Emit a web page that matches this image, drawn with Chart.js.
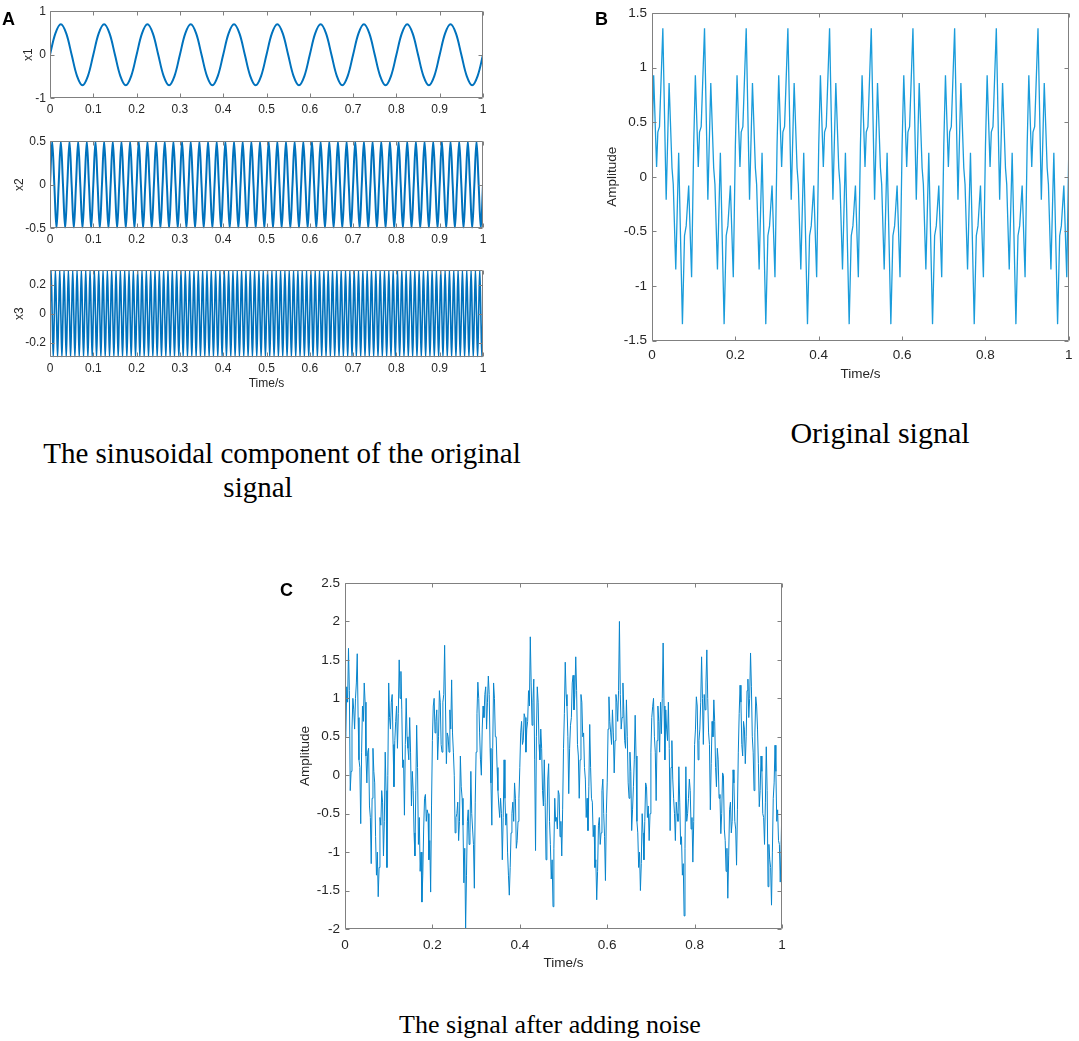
<!DOCTYPE html>
<html><head><meta charset="utf-8">
<script src="https://cdn.jsdelivr.net/npm/chart.js@4.4.0/dist/chart.umd.min.js"></script>
<style>
html,body{margin:0;padding:0;background:#fff;width:1079px;height:1041px;overflow:hidden;position:relative;}
canvas{position:absolute;}
.lbl{position:absolute;font-family:'Liberation Sans',Arial,sans-serif;font-weight:bold;font-size:18px;color:#000;line-height:18px;}
.cap{position:absolute;font-family:'Liberation Serif','Times New Roman',serif;color:#000;white-space:nowrap;text-align:center;line-height:34px;width:600px;}
</style></head><body>
<canvas id="cA1" width="500" height="130" style="left:0;top:0"></canvas>
<canvas id="cA2" width="500" height="130" style="left:0;top:130px"></canvas>
<canvas id="cA3" width="500" height="140" style="left:0;top:259px"></canvas>
<canvas id="cB" width="487" height="392" style="left:592px;top:0"></canvas>
<canvas id="cC" width="510" height="420" style="left:285px;top:560px"></canvas>
<div class="lbl" style="left:2px;top:10px">A</div>
<div class="lbl" style="left:595px;top:10px">B</div>
<div class="lbl" style="left:280px;top:581px">C</div>
<div class="cap" style="left:-18px;top:436px;font-size:29px">The sinusoidal component of the original</div>
<div class="cap" style="left:-42px;top:470px;font-size:29px">signal</div>
<div class="cap" style="left:580px;top:416px;font-size:30px">Original signal</div>
<div class="cap" style="left:250px;top:1008px;font-size:26px">The signal after adding noise</div>
<script>
// ---------- data ----------
const timeTicks10 = [0,0.1,0.2,0.3,0.4,0.5,0.6,0.7,0.8,0.9,1];
const timeTicks5 = [0,0.2,0.4,0.6,0.8,1];
const ticksX1 = [-1,0,1];
const ticksX2 = [-0.5,0,0.5];
const ticksX3 = [-0.2,0,0.2];
const ticksB = [-1.5,-1,-0.5,0,0.5,1,1.5];
const ticksC = [-2,-1.5,-1,-0.5,0,0.5,1,1.5,2,2.5];

// x1: sampled every 0.0125 s
const dtX1 = 0.0125;
const x1Values = [
0,.49,.7,.49,0,-.49,-.7,-.49, 0,.49,.7,.49,0,-.49,-.7,-.49,
0,.49,.7,.49,0,-.49,-.7,-.49, 0,.49,.7,.49,0,-.49,-.7,-.49,
0,.49,.7,.49,0,-.49,-.7,-.49, 0,.49,.7,.49,0,-.49,-.7,-.49,
0,.49,.7,.49,0,-.49,-.7,-.49, 0,.49,.7,.49,0,-.49,-.7,-.49,
0,.49,.7,.49,0,-.49,-.7,-.49, 0,.49,.7,.49,0,-.49,-.7,-.49,
0];

// x2: sampled every 0.005 s
const dtX2 = 0.005;
const x2Values = [
0,.5,0,-.5,0,.5,0,-.5,0,.5,0,-.5,0,.5,0,-.5,0,.5,0,-.5,0,.5,0,-.5,0,.5,0,-.5,0,.5,0,-.5,0,.5,0,-.5,0,.5,0,-.5,
0,.5,0,-.5,0,.5,0,-.5,0,.5,0,-.5,0,.5,0,-.5,0,.5,0,-.5,0,.5,0,-.5,0,.5,0,-.5,0,.5,0,-.5,0,.5,0,-.5,0,.5,0,-.5,
0,.5,0,-.5,0,.5,0,-.5,0,.5,0,-.5,0,.5,0,-.5,0,.5,0,-.5,0,.5,0,-.5,0,.5,0,-.5,0,.5,0,-.5,0,.5,0,-.5,0,.5,0,-.5,
0,.5,0,-.5,0,.5,0,-.5,0,.5,0,-.5,0,.5,0,-.5,0,.5,0,-.5,0,.5,0,-.5,0,.5,0,-.5,0,.5,0,-.5,0,.5,0,-.5,0,.5,0,-.5,
0,.5,0,-.5,0,.5,0,-.5,0,.5,0,-.5,0,.5,0,-.5,0,.5,0,-.5,0,.5,0,-.5,0,.5,0,-.5,0,.5,0,-.5,0,.5,0,-.5,0,.5,0,-.5,
0];

// x3: sampled every 0.0025 s
const dtX3 = 0.0025;
const x3Values = [
0,.3,0,-.3,0,.3,0,-.3,0,.3,0,-.3,0,.3,0,-.3,0,.3,0,-.3,0,.3,0,-.3,0,.3,0,-.3,0,.3,0,-.3,0,.3,0,-.3,0,.3,0,-.3,
0,.3,0,-.3,0,.3,0,-.3,0,.3,0,-.3,0,.3,0,-.3,0,.3,0,-.3,0,.3,0,-.3,0,.3,0,-.3,0,.3,0,-.3,0,.3,0,-.3,0,.3,0,-.3,
0,.3,0,-.3,0,.3,0,-.3,0,.3,0,-.3,0,.3,0,-.3,0,.3,0,-.3,0,.3,0,-.3,0,.3,0,-.3,0,.3,0,-.3,0,.3,0,-.3,0,.3,0,-.3,
0,.3,0,-.3,0,.3,0,-.3,0,.3,0,-.3,0,.3,0,-.3,0,.3,0,-.3,0,.3,0,-.3,0,.3,0,-.3,0,.3,0,-.3,0,.3,0,-.3,0,.3,0,-.3,
0,.3,0,-.3,0,.3,0,-.3,0,.3,0,-.3,0,.3,0,-.3,0,.3,0,-.3,0,.3,0,-.3,0,.3,0,-.3,0,.3,0,-.3,0,.3,0,-.3,0,.3,0,-.3,
0,.3,0,-.3,0,.3,0,-.3,0,.3,0,-.3,0,.3,0,-.3,0,.3,0,-.3,0,.3,0,-.3,0,.3,0,-.3,0,.3,0,-.3,0,.3,0,-.3,0,.3,0,-.3,
0,.3,0,-.3,0,.3,0,-.3,0,.3,0,-.3,0,.3,0,-.3,0,.3,0,-.3,0,.3,0,-.3,0,.3,0,-.3,0,.3,0,-.3,0,.3,0,-.3,0,.3,0,-.3,
0,.3,0,-.3,0,.3,0,-.3,0,.3,0,-.3,0,.3,0,-.3,0,.3,0,-.3,0,.3,0,-.3,0,.3,0,-.3,0,.3,0,-.3,0,.3,0,-.3,0,.3,0,-.3,
0,.3,0,-.3,0,.3,0,-.3,0,.3,0,-.3,0,.3,0,-.3,0,.3,0,-.3,0,.3,0,-.3,0,.3,0,-.3,0,.3,0,-.3,0,.3,0,-.3,0,.3,0,-.3,
0,.3,0,-.3,0,.3,0,-.3,0,.3,0,-.3,0,.3,0,-.3,0,.3,0,-.3,0,.3,0,-.3,0,.3,0,-.3,0,.3,0,-.3,0,.3,0,-.3,0,.3,0,-.3,
0];

// B: original signal (time, amplitude)
const timeB = [
0,.004,.011,.014,.018,.026,.034,.041,.048,.051,.057,.064,.073,.078,.082,.088,.095,
.1,.104,.111,.114,.118,.126,.134,.141,.148,.151,.157,.164,.173,.178,.182,.188,.195,
.2,.204,.211,.214,.218,.226,.234,.241,.248,.251,.257,.264,.273,.278,.282,.288,.295,
.3,.304,.311,.314,.318,.326,.334,.341,.348,.351,.357,.364,.373,.378,.382,.388,.395,
.4,.404,.411,.414,.418,.426,.434,.441,.448,.451,.457,.464,.473,.478,.482,.488,.495,
.5,.504,.511,.514,.518,.526,.534,.541,.548,.551,.557,.564,.573,.578,.582,.588,.595,
.6,.604,.611,.614,.618,.626,.634,.641,.648,.651,.657,.664,.673,.678,.682,.688,.695,
.7,.704,.711,.714,.718,.726,.734,.741,.748,.751,.757,.764,.773,.778,.782,.788,.795,
.8,.804,.811,.814,.818,.826,.834,.841,.848,.851,.857,.864,.873,.878,.882,.888,.895,
.9,.904,.911,.914,.918,.926,.934,.941,.948,.951,.957,.964,.973,.978,.982,.988,.995,
1];
const ampB = [
.29,.93,.09,.41,.46,1.36,-.21,.86,.08,-.07,-.85,.22,-1.35,-.54,-.45,-.08,-.92,
.29,.93,.09,.41,.46,1.36,-.21,.86,.08,-.07,-.85,.22,-1.35,-.54,-.45,-.08,-.92,
.29,.93,.09,.41,.46,1.36,-.21,.86,.08,-.07,-.85,.22,-1.35,-.54,-.45,-.08,-.92,
.29,.93,.09,.41,.46,1.36,-.21,.86,.08,-.07,-.85,.22,-1.35,-.54,-.45,-.08,-.92,
.29,.93,.09,.41,.46,1.36,-.21,.86,.08,-.07,-.85,.22,-1.35,-.54,-.45,-.08,-.92,
.29,.93,.09,.41,.46,1.36,-.21,.86,.08,-.07,-.85,.22,-1.35,-.54,-.45,-.08,-.92,
.29,.93,.09,.41,.46,1.36,-.21,.86,.08,-.07,-.85,.22,-1.35,-.54,-.45,-.08,-.92,
.29,.93,.09,.41,.46,1.36,-.21,.86,.08,-.07,-.85,.22,-1.35,-.54,-.45,-.08,-.92,
.29,.93,.09,.41,.46,1.36,-.21,.86,.08,-.07,-.85,.22,-1.35,-.54,-.45,-.08,-.92,
.29,.93,.09,.41,.46,1.36,-.21,.86,.08,-.07,-.85,.22,-1.35,-.54,-.45,-.08,-.92,
.29];

// C: noisy signal, sampled every 0.002 s
const dtC = 0.002;
const ampC = [
0.5,0.55,1.15,0.95,1.65,1.1,-0.2,0.05,0.6,1.0,0.85,0.6,1.0,1.2,1.58,0.75,0.2,0.1,-0.63,0.3,0.9,0.7,1.2,0.95,0.25,-0.1,0.3,0.35,-0.4,-0.55,-1.15,-0.3,0.35,0.05,-0.1,-0.8,-1.3,-1.0,-1.58,-1.2,-0.55,-0.65,-0.2,-0.35,-1.05,-0.6,0.3,-0.2,-1.2,0.0,
1.2,0.75,0.6,0.95,1.05,0.4,-0.15,0.45,0.7,0.9,0.35,0.8,1.5,1.0,1.35,0.85,0.1,0.2,-0.52,0.4,1.0,0.5,0.35,0.2,0.75,0.3,-0.4,0.05,-0.2,-0.75,-1.05,-0.2,0.65,0.1,-0.9,-0.55,-1.25,-1.0,-1.65,-1.3,-0.7,-0.3,-0.25,-0.6,-0.45,-0.5,-1.1,-0.85,-1.52,-0.4,
0.45,0.9,1.0,0.55,0.7,0.85,0.2,0.5,1.1,0.95,0.4,0.3,0.95,1.05,1.69,0.9,0.15,0.55,0.5,0.3,0.85,0.6,1.24,0.55,0.3,0.0,-0.75,-0.55,-0.5,-0.35,-0.85,-0.6,0.25,-0.15,-0.3,-0.65,-1.4,-0.95,-1.99,-1.3,-0.6,-0.45,-0.9,-0.75,0.05,-0.5,-0.7,-0.9,-1.47,-0.35,
0.3,0.8,1.21,1.0,0.55,0.2,0,0.6,0.9,0.75,1.05,1.15,0.6,0.95,1.29,1.05,0.35,-0.1,-0.65,0.35,1.2,1.0,0.5,0.5,0.1,-0.2,-0.4,-0.55,-0.3,-0.5,-1.1,-0.55,0.2,-0.3,-0.65,-0.5,-1.0,-1.3,-1.56,-1.2,-0.75,-0.5,-0.35,-0.6,-0.1,-0.3,-0.95,-0.85,-0.6,-0.3,
0.1,0.55,0.7,0.4,0.45,0.8,0.75,0.3,0.6,0.7,1.1,0.9,1.8,1.2,0.65,0.95,1.25,0.2,-0.98,0.5,1.15,0.95,0.4,0.2,0.6,0.35,-0.2,-0.4,0.2,-0.35,-1.1,-0.7,-0.05,0.15,-0.6,-0.9,-1.35,-1.1,-1.71,-0.95,-0.3,-0.6,-0.55,-0.7,-0.2,-0.25,-0.8,-0.6,-1.05,-0.45,
0.35,0.8,1.47,1.05,0.9,0.5,-0.24,0.35,0.65,0.75,1.2,1.3,0.85,1.05,1.54,1.1,0.4,0.25,-0.3,0.2,1.05,0.95,0.5,0.55,0.1,-0.05,-0.55,-0.3,-0.72,-0.15,0.66,0.1,-0.3,-0.35,-0.8,-0.65,-1.2,-1.1,-1.62,-1.25,-0.65,-0.55,-0.9,-0.75,-0.2,-0.05,-0.5,-0.8,-1.37,-0.5,
-0.1,0.6,1.02,0.7,0.55,0.4,0.85,0.55,0.03,0.45,1.05,0.95,0.7,1.1,2.0,1.05,0.6,0.75,1.2,0.85,0.45,0.35,0.98,0.5,-0.1,-0.3,0.3,0.05,-0.72,-0.45,-0.15,0.2,0.78,0.25,-0.6,-0.75,-1.2,-1.0,-1.5,-1.15,-0.5,-0.75,-1.1,-0.6,-0.1,-0.15,-0.55,-0.4,-0.85,-0.5,
0.3,0.75,0.89,1.0,0.5,0.3,-0.33,0.45,0.9,0.7,0.3,0.95,0.54,1.0,1.72,0.9,0.2,0.85,0.6,0.45,0.95,0.35,-0.72,0.1,0.45,-0.05,-0.3,-0.5,-0.85,-0.35,-0.5,-0.6,0.11,-0.35,-0.9,-0.8,-1.3,-1.15,-1.83,-0.95,0.11,-0.6,-0.5,-0.3,-0.05,-0.2,-0.7,-0.55,-1.13,-0.6,
0.4,0.6,1.02,0.9,0.2,0.45,0.6,0.95,1.54,1.0,0.4,1.05,0.85,1.2,1.63,1.0,0.55,0.4,-0.45,0.15,0.7,0.5,0.98,0.7,0.1,-0.15,0.35,0.2,-0.3,-0.25,-0.76,-0.5,0.03,0.0,-0.7,-0.85,-1.25,-0.95,-1.6,-1.05,-0.45,-0.35,-0.75,-0.6,0.07,-0.1,-0.6,-0.7,-1.17,-0.45,
0.3,0.8,1.17,0.95,0.4,0.25,0.7,0.6,0.15,0.5,1.1,1.25,0.75,1.0,1.59,1.15,0.5,0.3,-0.2,0.55,1.02,0.9,0.6,0.15,-0.41,-0.2,0.25,0.05,-0.5,-0.55,-0.9,-0.35,0.37,-0.2,-1.45,-0.9,-1.1,-1.2,-1.69,-1.0,-0.3,-0.1,0.39,0.05,-0.6,-0.45,-0.85,-0.9,-1.39,-0.9,
-0.33];

// ---------- rendering ----------
const FONT = "'Liberation Sans', Arial, Helvetica, sans-serif";
const TEXT = '#262626';
const fmt = v => String(Math.round(v * 100) / 100);
const uniform = (vals, dt) => vals.map((v, i) => ({x: i * dt, y: v}));
const paired = (ts, vals) => ts.map((t, i) => ({x: t, y: vals[i]}));

const matlabBox = {
  id: 'matlabBox',
  afterDatasetsDraw(chart, args, o) {
    const {ctx, chartArea: a} = chart;
    const xs = chart.scales.x, ys = chart.scales.y;
    const L = Math.round(a.left) + 0.5, R = Math.round(a.right) - 0.5;
    const T = Math.round(a.top) + 0.5, B = Math.round(a.bottom) - 0.5;
    ctx.save();
    ctx.strokeStyle = o.color; ctx.lineWidth = 1;
    ctx.beginPath();
    ctx.rect(L, T, R - L, B - T);
    xs.ticks.forEach(t => {
      const p = Math.round(xs.getPixelForValue(t.value)) + 0.5;
      ctx.moveTo(p, B); ctx.lineTo(p, B - o.len);
      ctx.moveTo(p, T); ctx.lineTo(p, T + o.len);
    });
    ys.ticks.forEach(t => {
      const p = Math.round(ys.getPixelForValue(t.value)) + 0.5;
      ctx.moveTo(L, p); ctx.lineTo(L + o.len, p);
      ctx.moveTo(R, p); ctx.lineTo(R - o.len, p);
    });
    ctx.stroke();
    ctx.restore();
  }
};

function build(id, pts, st, xTicks, yTicks, yMin, yMax, yTitle, xTitle) {
  new Chart(document.getElementById(id), {
    type: 'line',
    data: {datasets: [{data: pts, borderColor: st.color, borderWidth: st.lw, pointRadius: 0, tension: st.tension, fill: false}]},
    options: {
      responsive: false, animation: false, events: [],
      layout: {padding: st.pad},
      plugins: {legend: {display: false}, tooltip: {enabled: false}, matlabBox: {color: '#808080', len: st.tick}},
      scales: {
        x: {
          type: 'linear', min: 0, max: 1,
          afterBuildTicks: s => { s.ticks = xTicks.map(v => ({value: v})); },
          afterFit: s => { s.height = st.xH; },
          grid: {display: false, drawTicks: false}, border: {display: false},
          ticks: {padding: st.xPad, autoSkip: false, maxRotation: 0, color: TEXT, font: {family: FONT, size: st.fs}, callback: v => fmt(v)},
          title: {display: !!xTitle, text: xTitle || '', color: TEXT, font: {family: FONT, size: st.fs}, padding: {top: 0, bottom: st.xTitlePad}}
        },
        y: {
          type: 'linear', min: yMin, max: yMax,
          afterBuildTicks: s => { s.ticks = yTicks.map(v => ({value: v})); },
          afterFit: s => { s.width = st.yW; },
          grid: {display: false, drawTicks: false}, border: {display: false},
          ticks: {padding: st.yPad, color: TEXT, font: {family: FONT, size: st.fs}, callback: v => fmt(v)},
          title: {display: true, text: yTitle, color: TEXT, font: {family: FONT, size: st.fs}, padding: {top: st.yTitlePad, bottom: 0}}
        }
      }
    },
    plugins: [matlabBox]
  });
}

const stA = (pad, xH, xPad, yTitlePad, xTitlePad, lw) => ({color: '#0072BD', lw: lw, tension: 0.35, pad: pad, xH: xH, xPad: xPad, yW: 50, yPad: 4, yTitlePad: yTitlePad, xTitlePad: xTitlePad, fs: 12, tick: 4});

build('cA1', uniform(x1Values, dtX1), stA({top: 5, right: 17, left: 0, bottom: 0}, 31.7, 3.8, 21.8, 0, 2), timeTicks10, ticksX1, -1, 1, 'x1', null);
build('cA2', uniform(x2Values, dtX2), stA({top: 5, right: 17, left: 0, bottom: 0}, 31.7, 4.2, 12.8, 0, 2), timeTicks10, ticksX2, -0.5, 0.5, 'x2', null);
build('cA3', uniform(x3Values, dtX3), stA({top: 5.3, right: 17, left: 0, bottom: 0}, 41.7, 4.5, 12.8, 7.8, 1.6), timeTicks10, ticksX3, -0.3, 0.3, 'x3', 'Time/s');

build('cB', paired(timeB, ampB), {color: '#1a9cdb', lw: 1.3, tension: 0, pad: {top: 5, right: 1, left: 0, bottom: 0}, xH: 51.5, xPad: 6.4, yW: 60, yPad: 5, yTitlePad: 12.6, xTitlePad: 9.9, fs: 13.5, tick: 4},
  timeTicks5, ticksB, -1.5, 1.5, 'Amplitude', 'Time/s');

build('cC', uniform(ampC, dtC), {color: '#0784cc', lw: 1, tension: 0, pad: {top: 23, right: 13, left: 0, bottom: 0}, xH: 51, xPad: 7.9, yW: 60, yPad: 5, yTitlePad: 11.9, xTitlePad: 8.9, fs: 13.5, tick: 4},
  timeTicks5, ticksC, -2, 2.5, 'Amplitude', 'Time/s');
</script>
</body></html>
